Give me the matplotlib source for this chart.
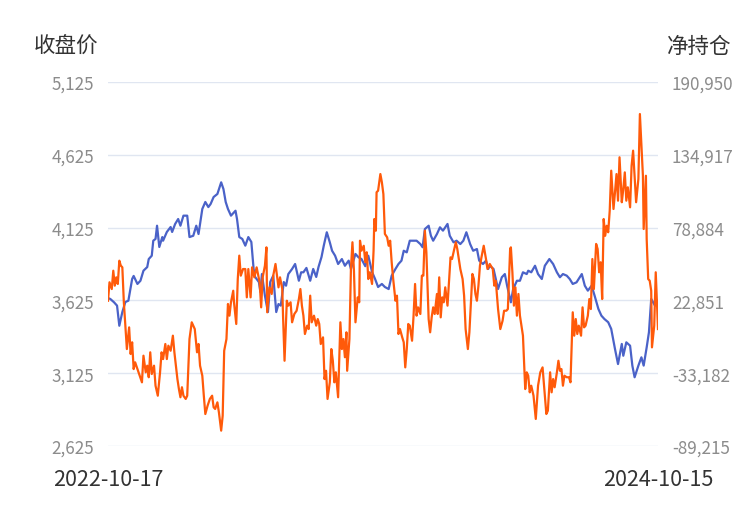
import numpy as np
import matplotlib
matplotlib.use("Agg")
import matplotlib.pyplot as plt
from matplotlib.ticker import FuncFormatter

plt.rcParams["font.family"] = ["Noto Sans CJK SC", "DejaVu Sans"]

start_date = np.datetime64("2022-10-17")
end_date = np.datetime64("2024-10-15")
date_labels = ["2022-10-17", "2024-10-15"]

# 收盘价: days after start_date, close
price_day = [0, 3, 8, 12, 15, 19, 23, 27, 32, 34, 39, 43, 47, 52, 54, 58, 60, 63, 65, 68,
             72, 73, 78, 83, 85, 89, 93, 96, 100, 105, 108, 113, 117, 120, 125, 129, 133, 136,
             140, 145, 150, 153, 156, 159, 163, 169, 171, 174, 178, 182, 186, 190, 193, 195,
             200, 202, 204, 208, 212, 215, 219, 223, 226, 229, 233, 236, 239, 244, 248, 253,
             256, 259, 263, 268, 272, 276, 279, 283, 286, 290, 294, 297, 301, 305, 310, 314,
             319, 322, 328, 332, 336, 341, 345, 350, 354, 358, 363, 367, 372, 376, 381, 385,
             389, 392, 396, 400, 405, 409, 414, 417, 420, 425, 428, 431, 436, 440, 444, 450,
             453, 458, 462, 467, 471, 475, 480, 484, 489, 492, 497, 501, 504, 506, 511, 514,
             517, 522, 526, 529, 534, 537, 542, 546, 550, 555, 557, 561, 566, 570, 575, 579,
             585, 590, 595, 599, 603, 608, 612, 616, 621, 628, 632, 636, 641, 645, 650, 654,
             658, 663, 667, 672, 676, 681, 683, 687, 692, 695, 698, 703, 707, 710, 714, 717,
             720, 725, 729]
price_close = [3641, 3635, 3612, 3589, 3451, 3545, 3614, 3623, 3772, 3793, 3738, 3760, 3829,
               3854, 3909, 3932, 4035, 4047, 4138, 3992, 4060, 4035, 4095, 4129, 4095, 4150,
               4184, 4138, 4207, 4207, 4060, 4069, 4138, 4081, 4253, 4301, 4266, 4287, 4335,
               4356, 4436, 4390, 4301, 4253, 4207, 4241, 4184, 4060, 4047, 4001, 4060, 4026,
               3841, 3786, 3751, 3683, 3806, 3657, 3545, 3751, 3795, 3545, 3600, 3589, 3751,
               3726, 3806, 3841, 3875, 3760, 3818, 3818, 3848, 3760, 3841, 3786, 3854, 3923,
               4001, 4093, 4024, 3966, 3932, 3875, 3909, 3863, 3898, 3841, 3944, 3921, 3909,
               3860, 3932, 3820, 3772, 3717, 3738, 3717, 3703, 3795, 3841, 3875, 3898, 3966,
               3955, 4035, 4035, 4035, 4012, 3990, 4115, 4138, 4069, 4035, 4081, 4127, 4104,
               4150, 4069, 4024, 4035, 4012, 4035, 4093, 4012, 3966, 3978, 3898, 3875, 3898,
               3841, 3863, 3841, 3772, 3703, 3784, 3806, 3726, 3612, 3703, 3760, 3760, 3818,
               3806, 3829, 3818, 3863, 3806, 3772, 3863, 3909, 3875, 3818, 3784, 3806, 3795,
               3772, 3738, 3749, 3806, 3726, 3692, 3726, 3657, 3566, 3520, 3497, 3475, 3429,
               3291, 3188, 3326, 3245, 3337, 3314, 3177, 3097, 3177, 3234, 3177, 3303, 3406,
               3635, 3589, 3623]

# 净持仓: days after start_date, net position
net_day = [0, 2, 5, 7, 9, 11, 13, 15, 17, 19, 21, 23, 25, 28, 30, 32, 34, 36, 39, 42, 45,
           47, 50, 52, 54, 56, 58, 61, 63, 66, 69, 71, 73, 76, 78, 80, 83, 86, 88, 92, 94, 96,
           98, 100, 103, 105, 108, 111, 115, 118, 120, 122, 125, 127, 129, 132, 135, 138, 140,
           142, 145, 147, 150, 152, 154, 157, 159, 161, 163, 166, 167, 170, 172, 174, 176, 179,
           182, 184, 186, 189, 191, 194, 197, 201, 203, 205, 208, 210, 211, 214, 217, 219, 222,
           224, 226, 228, 231, 232, 234, 237, 239, 242, 244, 247, 250, 253, 255, 257, 259, 261,
           264, 266, 268, 270, 273, 276, 278, 280, 282, 285, 287, 289, 291, 294, 296, 298, 300,
           302, 305, 308, 310, 312, 314, 316, 317, 320, 322, 324, 326, 328, 331, 333, 334, 336,
           339, 341, 343, 345, 347, 350, 352, 353, 355, 356, 358, 361, 363, 365, 367, 370, 372,
           374, 376, 378, 381, 383, 385, 387, 390, 392, 394, 396, 398, 400, 403, 405, 407, 409,
           411, 414, 416, 418, 420, 422, 425, 427, 429, 431, 433, 436, 437, 439, 441, 443, 445,
           447, 450, 452, 454, 456, 459, 461, 463, 465, 467, 470, 472, 474, 477, 479, 481, 483,
           485, 487, 489, 491, 493, 495, 498, 501, 503, 506, 510, 512, 514, 517, 520, 523, 525,
           528, 530, 533, 534, 536, 538, 540, 542, 544, 546, 548, 550, 553, 555, 557, 559, 561,
           564, 567, 570, 573, 576, 578, 581, 583, 586, 588, 590, 592, 595, 597, 599, 601, 603,
           605, 608, 611, 613, 616, 618, 620, 622, 624, 627, 629, 631, 633, 636, 638, 640, 642,
           644, 647, 649, 651, 653, 655, 657, 659, 661, 663, 665, 667, 670, 672, 674, 676, 678,
           681, 683, 685, 687, 689, 692, 694, 696, 698, 700, 703, 705, 707, 709, 710, 713, 714,
           716, 718, 720, 721, 724, 726, 729]
net_pos = [22600, 36800, 31600, 45700, 34200, 40600, 35500, 53400, 49600, 48300, 21400, 3400,
           -14600, 2100, -18400, -9400, -30000, -24800, -30000, -35100, -40200, -19700, -32500,
           -27400, -36300, -17100, -33800, -27400, -42800, -50500, -32500, -17100, -22300,
           -10700, -22300, -12000, -15900, -4300, -17100, -37700, -45400, -51700, -44000,
           -50500, -53000, -50500, -6900, 6000, 800, -17100, -10700, -27400, -35100, -50500,
           -64600, -58200, -53000, -50500, -59400, -60700, -55600, -63300, -77400, -65900,
           -15900, -6900, 20100, 11100, 21400, 30300, 21400, 4700, 39300, 57300, 41900, 47000,
           47000, 25200, 47000, 25200, 48300, 40600, 48300, 36800, 17500, 40600, 49600, 63700,
           13700, 32900, 27800, 41900, 50900, 41900, 32900, 40600, 31600, 11100, -23600, 22600,
           18800, 21400, 6000, 12400, 14900, 23900, 31600, 18800, 11100, -3000, 3400, 800,
           26500, 6000, 11100, 3400, 8500, 4700, -10700, -5600, -37700, -31300, -53000, -40200,
           -14600, -23600, -40200, -32500, -51700, 6000, -14600, -6900, -20900, -1700, -31300,
           -6900, 47000, 67600, 45700, 6000, 25200, 21400, 68800, 61100, 64900, 52200, 59900,
           39300, 44500, 35500, 61100, 85500, 76500, 106100, 107300, 120100, 113800, 104700,
           74000, 71400, 64900, 68800, 52200, 39300, 22600, 26500, -3000, 800, -5600, -9400,
           -28700, -14600, 4700, 3400, -8200, 11100, 35500, 11100, 17500, 12400, 41900, 41900,
           76500, 59900, 8500, -1700, 9800, 17500, 12400, 27800, 12400, 40600, 9800, 25200,
           21400, 32900, 18800, 36800, 56000, 54700, 62400, 67600, 62400, 54700, 47000, 39300,
           26500, 800, -14600, -1700, 21400, 43200, 39300, 27800, 22600, 34200, 49600, 56000,
           64900, 54700, 47000, 50900, 47000, 34200, 38000, 16200, 800, 7200, 14900, 14900,
           16200, 62400, 63700, 44500, 18800, 32900, 11100, 27800, 11100, 3400, -4300, -45400,
           -32500, -35100, -47900, -42800, -50500, -68400, -42800, -32500, -28700, -42800,
           -64600, -62100, -32500, -47900, -37700, -44000, -32500, -23600, -31300, -30000,
           -42800, -35100, -36300, -36300, -40200, 13700, -4300, 8500, -3000, 3400, -4300,
           17500, 2100, 3400, 11100, 23900, 16200, 54700, 31600, 66300, 62400, 44500, 52200,
           23900, 85500, 72600, 80300, 75300, 91900, 122700, 93200, 106100, 120100, 99600,
           133000, 98400, 108600, 121400, 99600, 109900, 94500, 126500, 138100, 118800, 98400,
           116300, 166300, 141900, 118800, 77800, 118800, 70100, 39300, 38000, 30300, -13300,
           3400, 44500, 800]

left_ticks = [2625, 3125, 3625, 4125, 4625, 5125]
right_ticks = [-89215, -33182, 22851, 78884, 134917, 190950]

blue = "#4a62c8"
orange = "#ff5a0a"
grid_c = "#e0e6f1"
label_c = "#8c8c8c"
title_c = "#333333"

fig = plt.figure(figsize=(7.5, 5.1), dpi=100)
ax = fig.add_axes([108 / 750, 1 - 447 / 510, 550 / 750, 364 / 510])
ax2 = ax.twinx()

px = start_date + np.array(price_day).astype("timedelta64[D]")
nx = start_date + np.array(net_day).astype("timedelta64[D]")

ax.plot(px, price_close, color=blue, lw=1.6, zorder=3)
ax2.plot(nx, net_pos, color=orange, lw=1.6, zorder=3)

ax.set_ylim(left_ticks[0], left_ticks[-1])
ax2.set_ylim(right_ticks[0], right_ticks[-1])
ax.set_yticks(left_ticks)
ax2.set_yticks(right_ticks)
comma = FuncFormatter(lambda v, p: f"{int(round(v)):,}")
ax.yaxis.set_major_formatter(comma)
ax2.yaxis.set_major_formatter(comma)
ax.set_xlim(start_date, end_date)
ax.set_xticks([start_date, end_date])
ax.set_xticklabels(date_labels)

ax.grid(axis="y", color=grid_c, lw=1)
ax.set_axisbelow(True)
for a in (ax, ax2):
    for s in a.spines.values():
        s.set_visible(False)
ax.tick_params(axis="y", length=0, pad=10, labelsize=12.3, labelcolor=label_c)
ax2.tick_params(axis="y", length=0, pad=10, labelsize=12.3, labelcolor=label_c)
ax.tick_params(axis="x", length=0, pad=16, labelsize=15.5, labelcolor=title_c)

fig.text(98 / 750, 1 - 47 / 510, "收盘价", ha="right", va="center", fontsize=15.5, color=title_c)
fig.text(667 / 750, 1 - 47 / 510, "净持仓", ha="left", va="center", fontsize=15.5, color=title_c)

fig.savefig("out.png", dpi=100)
